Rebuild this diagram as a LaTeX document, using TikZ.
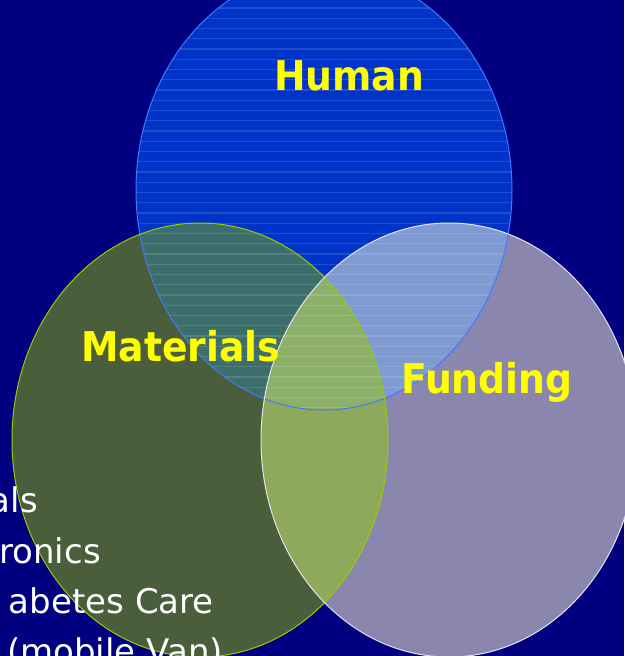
\documentclass[tikz,border=0pt]{standalone}
\usepackage{fontspec}
\setmainfont{DejaVu Sans}
\newfontfamily\setfont[FakeStretch=0.92]{DejaVu Sans}
\definecolor{slidebg}{RGB}{0,0,128}
\definecolor{humanfill}{RGB}{0,52,200}
\definecolor{humanline}{RGB}{60,124,255}
\definecolor{matfill}{RGB}{75,94,59}
\definecolor{matline}{RGB}{153,204,0}
\definecolor{fundfill}{RGB}{138,134,174}
\definecolor{fundline}{RGB}{226,226,236}
\definecolor{hmfill}{RGB}{62,110,107}
\definecolor{hffill}{RGB}{127,155,210}
\definecolor{mffill}{RGB}{142,169,92}
\definecolor{allfill}{RGB}{140,176,106}
\definecolor{setyellow}{RGB}{255,255,0}
\def\humanset{(324,190) ellipse [x radius=188, y radius=220]}
\def\matset{(200,440) ellipse [x radius=188, y radius=217]}
\def\fundset{(449,440) ellipse [x radius=188, y radius=217]}
\begin{document}
\begin{tikzpicture}[x=1pt,y=-1pt,
    setname/.style={font=\setfont\bfseries\fontsize{41}{41}\selectfont,
      text=setyellow, inner sep=0pt, anchor=base west},
    item/.style={font=\fontsize{34}{34}\selectfont, text=white,
      inner sep=0pt, anchor=base east}]
  \fill[slidebg] (0,0) rectangle (624,656);
  \useasboundingbox (0,0) rectangle (624,656);
  % the three sets
  \fill[humanfill] \humanset;
  \fill[matfill] \matset;
  \fill[fundfill] \fundset;
  % overlaps
  \begin{scope}
    \clip \humanset;
    \fill[hmfill] \matset;
    \fill[hffill] \fundset;
  \end{scope}
  \begin{scope}
    \clip \matset;
    \fill[mffill] \fundset;
    \clip \humanset;
    \fill[allfill] \fundset;
  \end{scope}
  % stripes of the top set
  \begin{scope}
    \clip \humanset;
    \foreach \y in {8,18.25,...,420}
      \draw[white, opacity=0.13, line width=1.2pt] (100,\y) -- (540,\y);
  \end{scope}
  \draw[humanline, line width=1pt] \humanset;
  \draw[matline, line width=1pt] \matset;
  \draw[fundline, line width=1pt] \fundset;
  % labels
  \node[setname] (human) at (274,90) {Human};
  \node[setname] (materials) at (81,361) {Materials};
  \node[setname] (funding) at (401,393) {Funding};
  % list on the left
  \node[item] (line1) at (38,512) {als};
  \node[item] (line2) at (101,563) {ronics};
  \node[item] (line3) at (214,613) {abetes Care};
  \node[item] (line4) at (223,663) {(mobile Van)};
\end{tikzpicture}
\end{document}
